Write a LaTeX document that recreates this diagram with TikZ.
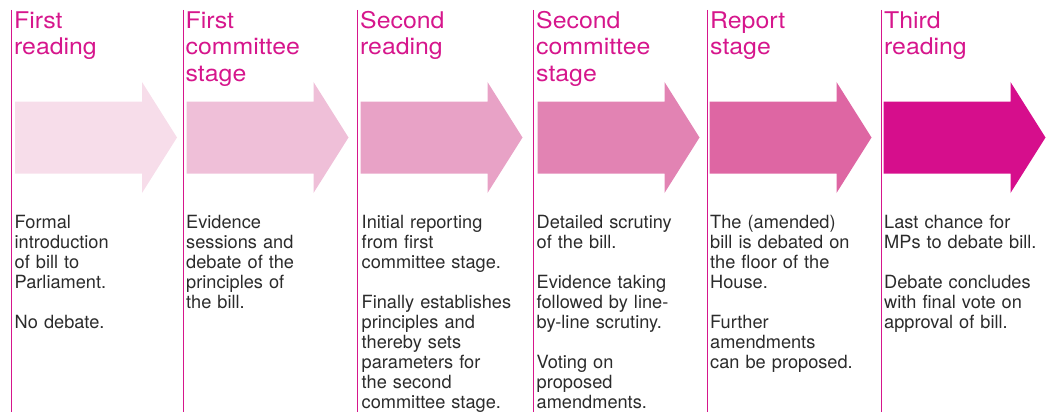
\documentclass[tikz,border=0pt]{standalone}
\usepackage{fontspec}
\setmainfont{TeX Gyre Heros}
\newfontfamily\stagefont[FakeStretch=1.08]{TeX Gyre Heros}
\definecolor{magentaline}{HTML}{D6168C}
\definecolor{stageA}{HTML}{F7DDEA}
\definecolor{stageB}{HTML}{EFBFD8}
\definecolor{stageC}{HTML}{E8A2C6}
\definecolor{stageD}{HTML}{E283B3}
\definecolor{stageE}{HTML}{DE66A3}
\definecolor{stageF}{HTML}{D60E8C}
\definecolor{bodytext}{HTML}{2B2B2B}
\tikzset{
  divider/.style={draw=magentaline, line width=1pt},
  stagetitle/.style={anchor=base west, inner sep=0pt, text width=165pt, align=left,
    text=magentaline, font=\stagefont\fontsize{23}{26.5}\selectfont},
  stagetext/.style={anchor=base west, inner sep=0pt, text width=170pt, align=left,
    text=bodytext, font=\fontsize{18.2}{20}\selectfont}
}
\begin{document}
\begin{tikzpicture}[x=1pt, y=-1pt]
        \useasboundingbox (0,0) rectangle (1055,412);
        % dividers
        \draw[divider] (11.5,10) -- (11.5,412);
        \draw[divider] (183,10) -- (183,412);
        \draw[divider] (357,10) -- (357,412);
        \draw[divider] (533,10) -- (533,412);
        \draw[divider] (707,10) -- (707,412);
        \draw[divider] (881,10) -- (881,412);
        % arrows
        \fill[stageA] (15,101.5) -- ++(127,0) -- ++(0,-19.5) -- ++(35,55.5) -- ++(-35,55.5) -- ++(0,-19.5) -- ++(-127,0) -- cycle;
        \fill[stageB] (186.5,101.5) -- ++(127,0) -- ++(0,-19.5) -- ++(35,55.5) -- ++(-35,55.5) -- ++(0,-19.5) -- ++(-127,0) -- cycle;
        \fill[stageC] (360.5,101.5) -- ++(127,0) -- ++(0,-19.5) -- ++(35,55.5) -- ++(-35,55.5) -- ++(0,-19.5) -- ++(-127,0) -- cycle;
        \fill[stageD] (537.5,101.5) -- ++(127,0) -- ++(0,-19.5) -- ++(35,55.5) -- ++(-35,55.5) -- ++(0,-19.5) -- ++(-127,0) -- cycle;
        \fill[stageE] (709.5,101.5) -- ++(127,0) -- ++(0,-19.5) -- ++(35,55.5) -- ++(-35,55.5) -- ++(0,-19.5) -- ++(-127,0) -- cycle;
        \fill[stageF] (883.5,101.5) -- ++(127,0) -- ++(0,-19.5) -- ++(35,55.5) -- ++(-35,55.5) -- ++(0,-19.5) -- ++(-127,0) -- cycle;
        % titles
        \node[stagetitle] (firstreading) at (14,28.3) {First\\reading};
        \node[stagetitle] (firstcommittee) at (185.5,28.3) {First\\committee\\stage};
        \node[stagetitle] (secondreading) at (360,28.3) {Second\\reading};
        \node[stagetitle] (secondcommittee) at (536,28.3) {Second\\committee\\stage};
        \node[stagetitle] (reportstage) at (710,28.3) {Report\\stage};
        \node[stagetitle] (thirdreading) at (884,28.3) {Third\\reading};
        % descriptions
        \node[stagetext] (firstreading-text) at (14.5,228.5) {Formal\\introduction\\of bill to\\Parliament.\\[20pt]No debate.};
        \node[stagetext] (firstcommittee-text) at (186,228.5) {Evidence\\sessions and\\debate of the\\principles of\\the bill.};
        \node[stagetext] (secondreading-text) at (361.5,228.5) {Initial reporting\\from first\\committee stage.\\[20pt]Finally establishes\\principles and\\thereby sets\\parameters for\\the second\\committee stage.};
        \node[stagetext] (secondcommittee-text) at (536.5,228.5) {Detailed scrutiny\\of the bill.\\[20pt]Evidence taking\\followed by line-\\by-line scrutiny.\\[20pt]Voting on\\proposed\\amendments.};
        \node[stagetext] (reportstage-text) at (710,228.5) {The (amended)\\bill is debated on\\the floor of the\\House.\\[20pt]Further\\amendments\\can be proposed.};
        \node[stagetext] (thirdreading-text) at (884,228.5) {Last chance for\\MPs to debate bill.\\[20pt]Debate concludes\\with final vote on\\approval of bill.};
\end{tikzpicture}
\end{document}
